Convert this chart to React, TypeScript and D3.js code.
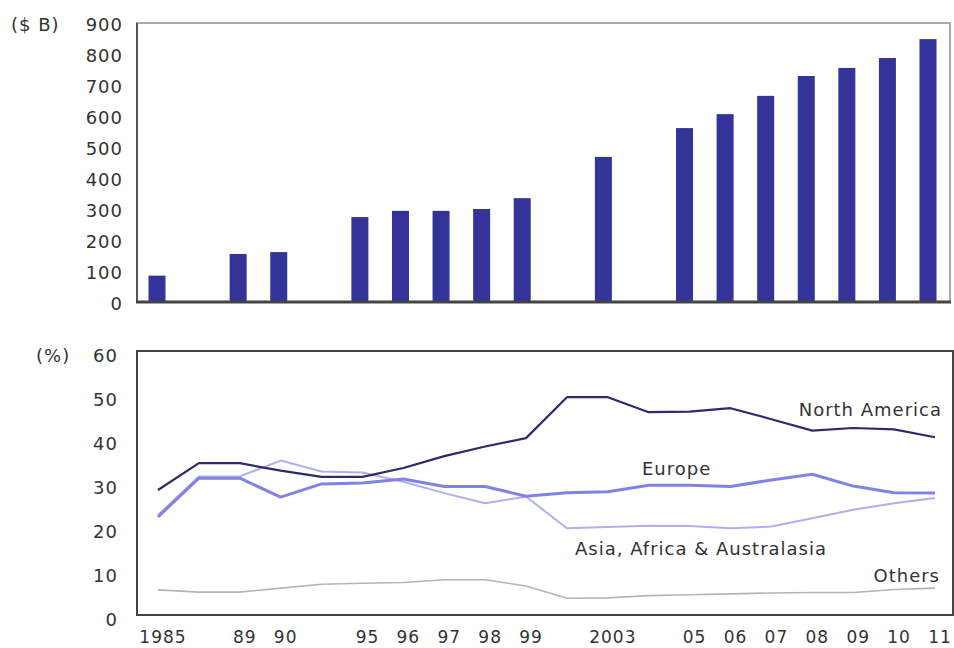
import * as d3 from "d3";

// x slots (blank = no label)
const slots = ["1985", "", "89", "90", "", "95", "96", "97", "98", "99", "", "2003", "", "05", "06", "07", "08", "09", "10", "11"];

// top panel: $ B, null where no bar
const investment = [85, null, 155, 161, null, 274, 294, 294, 300, 335, null, 468, null, 561, 606, 665, 729, 755, 787, 848];

// bottom panel: share (%)
const northAmerica = [28.4, 34.5, 34.5, 32.8, 31.4, 31.4, 33.4, 36.1, 38.3, 40.2, 49.5, 49.5, 46.1, 46.2, 47.0, 44.5, 41.9, 42.5, 42.2, 40.4];
const europe = [22.3, 31.1, 31.1, 26.8, 29.8, 30.0, 30.9, 29.2, 29.2, 27.0, 27.8, 28.0, 29.5, 29.5, 29.2, 30.7, 32.0, 29.3, 27.8, 27.7];
const asia = [22.7, 31.5, 31.5, 35.1, 32.6, 32.4, 30.3, 27.7, 25.4, 26.9, 19.7, 20.0, 20.3, 20.2, 19.7, 20.1, 22.0, 23.9, 25.4, 26.6];
const others = [5.7, 5.2, 5.2, 6.1, 7.0, 7.2, 7.4, 8.0, 8.0, 6.6, 3.8, 3.9, 4.4, 4.6, 4.8, 5.0, 5.1, 5.1, 5.8, 6.1];

const barTicks = [0, 100, 200, 300, 400, 500, 600, 700, 800, 900];
const pctTicks = [0, 10, 20, 30, 40, 50, 60];

const font = "'DejaVu Sans', Verdana, sans-serif";
const textColor = "#333";

const App = () => {
  const idx = d3.range(slots.length);

  // top chart
  const xTop = d3.scalePoint<number>().domain(idx).range([157, 928]);
  const yTop = d3.scaleLinear().domain([0, 900]).range([302, 23]);

  // bottom chart
  const xBot = d3.scalePoint<number>().domain(idx).range([158, 935]);
  const yBot = d3.scaleLinear().domain([0, 60]).range([615, 351]);

  const line = d3
    .line<number>()
    .x((_, i) => xBot(i)!)
    .y((d) => yBot(d));

  const series = [
    { name: "Others", values: others, color: "#b4b4b4", width: 1.6 },
    { name: "Asia", values: asia, color: "#b0b0f0", width: 2 },
    { name: "Europe", values: europe, color: "#8282e4", width: 3 },
    { name: "North America", values: northAmerica, color: "#2c2c6a", width: 2.2 },
  ];

  const labelStyle = {
    fontFamily: font,
    fontSize: 18,
    letterSpacing: 1,
    fill: textColor,
  };

  return (
    <svg
      width={954}
      height={648}
      style={{ position: "absolute", left: 0, top: 0, background: "#fff" }}
    >
      {/* ---------- top panel ---------- */}
      <rect x={137} y={yTop(900)} width={813} height={yTop(0) - yTop(900)} fill="none" stroke="#aaa" strokeWidth={2} />
      <line x1={137} x2={137} y1={yTop(900)} y2={yTop(0)} stroke="#555" strokeWidth={2} />
      {investment.map((v, i) =>
        v == null ? null : (
          <rect key={i} x={xTop(i)! - 8.5} y={yTop(v)} width={17} height={yTop(0) - yTop(v)} fill="#333399" />
        )
      )}
      <line x1={136} x2={951} y1={yTop(0)} y2={yTop(0)} stroke="#444" strokeWidth={3} />
      {barTicks.map((t) => (
        <text key={t} x={123} y={yTop(t) + 8} textAnchor="end" style={labelStyle}>
          {t}
        </text>
      ))}
      <text x={11} y={yTop(900) + 8} style={labelStyle}>
        ($ B)
      </text>

      {/* ---------- bottom panel ---------- */}
      {series.map((s) => (
        <path key={s.name} d={line(s.values)!} fill="none" stroke={s.color} strokeWidth={s.width} strokeLinejoin="round" />
      ))}
      <rect x={137} y={yBot(60)} width={816} height={yBot(0) - yBot(60)} fill="none" stroke="#444" strokeWidth={2} />
      {pctTicks.map((t) => (
        <text key={t} x={118} y={yBot(t) + 11} textAnchor="end" style={labelStyle}>
          {t}
        </text>
      ))}
      <text x={36} y={yBot(60) + 11} style={labelStyle}>
        (%)
      </text>
      {slots.map((s, i) =>
        s ? (
          <text key={i} x={xBot(i)! + 5} y={643} textAnchor="middle" style={{ ...labelStyle, fontSize: 17 }}>
            {s}
          </text>
        ) : null
      )}

      {/* series labels */}
      <text x={942} y={416} textAnchor="end" style={labelStyle}>
        North America
      </text>
      <text x={642} y={475} style={labelStyle}>
        Europe
      </text>
      <text x={575} y={555} style={labelStyle}>
        Asia, Africa &amp; Australasia
      </text>
      <text x={940} y={582} textAnchor="end" style={labelStyle}>
        Others
      </text>
    </svg>
  );
};

export default App;
